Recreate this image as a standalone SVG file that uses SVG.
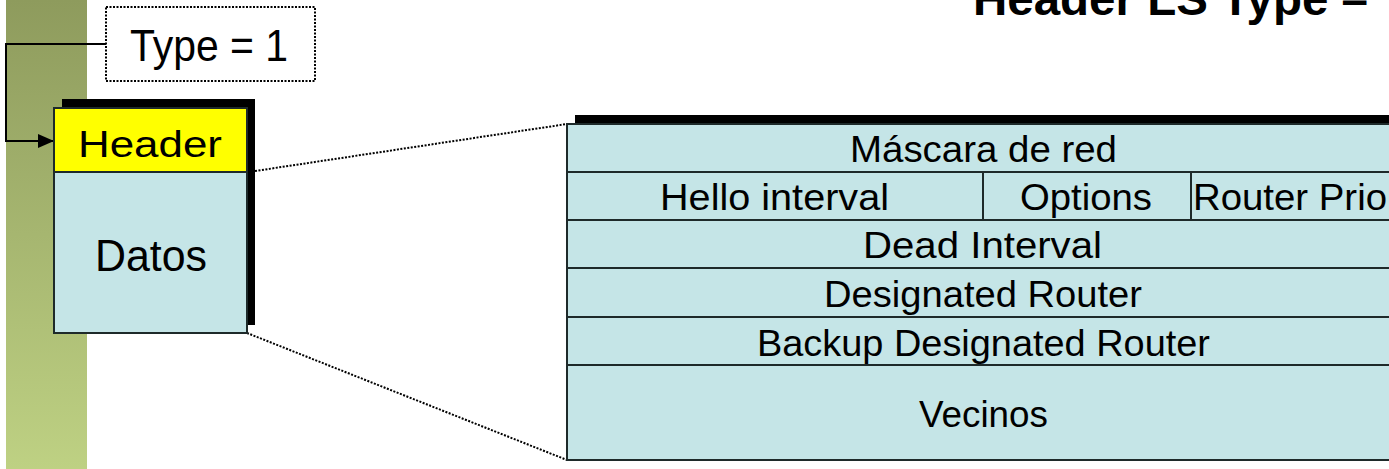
<svg xmlns="http://www.w3.org/2000/svg" width="1389" height="469" viewBox="0 0 1389 469">
  <defs>
    <linearGradient id="band" x1="0" y1="0" x2="0" y2="1">
      <stop offset="0" stop-color="#8E9B5D"/>
      <stop offset="1" stop-color="#BED183"/>
    </linearGradient>
    <marker id="arrow" markerWidth="16" markerHeight="14" refX="16" refY="7" orient="auto" markerUnits="userSpaceOnUse">
      <path d="M0,0 L16,7 L0,14 Z" fill="#000"/>
    </marker>
    <style>
      .lbl { font-family: "Liberation Sans", "DejaVu Sans", sans-serif; fill: #000; }
      .cell { fill: #C5E5E7; stroke: #1E2A2A; stroke-width: 2; }
      .shadow { fill: #000; }
      .dots { fill: none; stroke: #000; stroke-width: 2; stroke-dasharray: 2 1.5; }
      .wire { fill: none; stroke: #000; stroke-width: 2; }
      .title { font-family: "Liberation Sans", Arial, sans-serif; font-weight: bold; fill: #000; }
    </style>
  </defs>

  <!-- left decorative band -->
  <rect x="6" y="0" width="81" height="469" fill="url(#band)"/>

  <!-- page title, partly above the top edge -->
  <text class="title" x="973" y="15" font-size="46" textLength="395" lengthAdjust="spacingAndGlyphs">Header LS Type –</text>

  <!-- connectors -->
  <g id="connectors">
    <path class="wire" d="M106,44 H6 V141 H54" marker-end="url(#arrow)"/>
    <line class="dots" x1="255" y1="171" x2="567" y2="124"/>
    <line class="dots" x1="247" y1="333" x2="567" y2="460"/>
  </g>

  <!-- type label -->
  <g id="type-label">
    <rect x="106" y="7" width="209" height="74" fill="#fff" stroke="#000" stroke-width="2" stroke-dasharray="2 1.5"/>
    <text class="lbl" x="130" y="61" font-size="44" textLength="158" lengthAdjust="spacingAndGlyphs">Type = 1</text>
  </g>

  <!-- packet: header + data -->
  <g id="packet">
    <rect class="shadow" x="62" y="99" width="193" height="226"/>
    <rect x="54" y="108" width="193" height="64" fill="#FFFF00" stroke="#1E2A2A" stroke-width="2"/>
    <rect class="cell" x="54" y="172" width="193" height="161"/>
    <text class="lbl" x="78" y="157" font-size="36" textLength="144" lengthAdjust="spacingAndGlyphs">Header</text>
    <text class="lbl" x="95" y="271" font-size="45" textLength="112" lengthAdjust="spacingAndGlyphs">Datos</text>
  </g>

  <!-- hello packet fields -->
  <g id="fields">
    <rect class="shadow" x="575" y="115" width="832" height="345"/>
    <rect class="cell" x="567" y="124" width="832" height="48"/>
    <rect class="cell" x="567" y="172" width="416" height="48"/>
    <rect class="cell" x="983" y="172" width="208" height="48"/>
    <rect class="cell" x="1191" y="172" width="208" height="48"/>
    <rect class="cell" x="567" y="220" width="832" height="48"/>
    <rect class="cell" x="567" y="268" width="832" height="49"/>
    <rect class="cell" x="567" y="317" width="832" height="48"/>
    <rect class="cell" x="567" y="365" width="832" height="95"/>

    <text class="lbl" x="850" y="162" font-size="37" textLength="267" lengthAdjust="spacingAndGlyphs">Máscara de red</text>
    <text class="lbl" x="660" y="210" font-size="37" textLength="229" lengthAdjust="spacingAndGlyphs">Hello interval</text>
    <text class="lbl" x="1020" y="210" font-size="37" textLength="132" lengthAdjust="spacingAndGlyphs">Options</text>
    <text class="lbl" x="1193" y="210" font-size="37" textLength="194" lengthAdjust="spacingAndGlyphs">Router Prio</text>
    <text class="lbl" x="863" y="258" font-size="37" textLength="239" lengthAdjust="spacingAndGlyphs">Dead Interval</text>
    <text class="lbl" x="824" y="307" font-size="37" textLength="318" lengthAdjust="spacingAndGlyphs">Designated Router</text>
    <text class="lbl" x="757" y="356" font-size="37" textLength="453" lengthAdjust="spacingAndGlyphs">Backup Designated Router</text>
    <text class="lbl" x="919" y="427" font-size="37" textLength="129" lengthAdjust="spacingAndGlyphs">Vecinos</text>
  </g>
</svg>
